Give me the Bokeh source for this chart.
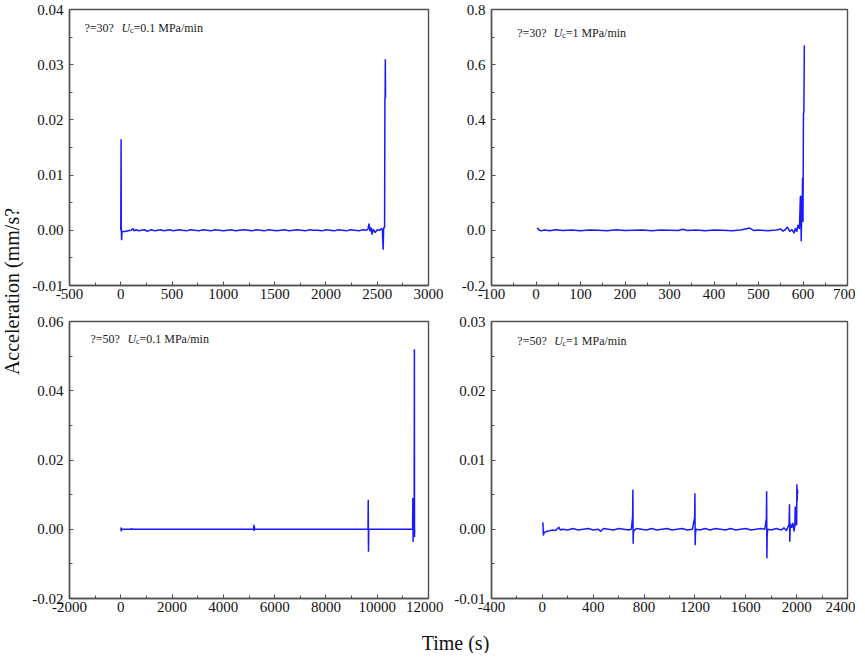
import math
from bokeh.plotting import figure
from bokeh.layouts import row, column, gridplot
from bokeh.models import Range1d, FixedTicker, NumeralTickFormatter, Label
from bokeh.core.properties import value
from bokeh.embed import file_html
from bokeh.resources import INLINE

# ---------------- data ----------------
# (a) theta=30, Uc=0.1 MPa/min
t1 = [0, 3, 5, 8, 12,
      20, 45, 70, 100, 120, 130, 150, 175, 200, 230,
      260, 280, 300, 330, 360, 390, 420, 450, 480, 510,
      540, 570, 600, 640, 680, 720, 760, 800, 840, 880,
      920, 960, 1000, 1040, 1080, 1120, 1160, 1200, 1240, 1280,
      1320, 1360, 1400, 1440, 1480, 1520, 1560, 1600, 1640, 1680,
      1720, 1760, 1800, 1840, 1880, 1920, 1960, 2000, 2040, 2080,
      2120, 2160, 2200, 2240, 2280, 2320, 2360, 2390,
      2410, 2420, 2430, 2440, 2450, 2460, 2480, 2500, 2520, 2540,
      2550, 2558, 2562, 2566, 2570, 2572, 2575, 2577, 2579, 2581, 2583]
a1 = [0.0, 0.0165, 0.0005, -0.0018, -0.0003,
      -0.0002, -0.0002, -0.0001, 0.0, 0.0003, -0.0001, 0.0001, -0.0001, 0.0, 0.0001,
      -0.0002, 0.0, 0.0001, -0.0001, 0.0, 0.0001, -0.0001, 0.0, 0.0001, -0.0001,
      0.0, 0.0001, 0.0, -0.0001, 0.0001, 0.0, -0.0001, 0.0001, 0.0, -0.0001,
      0.0001, 0.0, -0.0001, 0.0, 0.0001, -0.0001, 0.0, 0.0001, 0.0, -0.0001,
      0.0001, 0.0, -0.0001, 0.0001, 0.0, -0.0001, 0.0, 0.0001, -0.0001, 0.0,
      0.0001, 0.0, -0.0001, 0.0001, 0.0, 0.0, -0.0001, 0.0001, 0.0, -0.0001,
      0.0001, 0.0, -0.0001, 0.0001, 0.0, -0.0001, 0.0001, 0.0,
      0.0002, 0.0012, -0.0002, 0.0005, -0.0008, 0.0002, -0.0004, 0.0001, 0.0, 0.0003,
      0.0002, -0.0035, 0.0002, 0.0006, 0.0004, 0.0008, 0.024, 0.0238, 0.031, 0.024, 0.024]

# (b) theta=30, Uc=1 MPa/min
t2 = [3, 5, 8, 12, 20, 30, 45, 60, 80, 100,
      120, 140, 160, 180, 200, 220, 240, 260, 280, 300,
      320, 330, 340, 360, 380, 400, 420, 440, 460, 480,
      490, 500, 520, 540, 550, 555, 560, 565, 570, 575,
      580, 583, 586, 589, 592, 594, 595, 596, 597, 598,
      599, 600, 601, 602, 603]
a2 = [0.01, 0.004, 0.0, -0.002, 0.001, -0.002, 0.002, -0.001, 0.001, -0.002,
      0.001, 0.0, -0.002, 0.002, -0.001, 0.0, 0.001, -0.002, 0.001, 0.0,
      -0.001, 0.004, -0.001, 0.001, -0.002, 0.001, 0.0, -0.002, 0.001, 0.008,
      -0.001, 0.001, -0.002, 0.001, 0.005, -0.003, 0.002, 0.012, -0.004, 0.003,
      -0.01, 0.008, -0.005, 0.02, 0.005, 0.12, 0.125, -0.04, 0.05, 0.04,
      0.19, 0.03, 0.42, 0.43, 0.67]

# (c) theta=50, Uc=0.1 MPa/min
t3 = [0, 10, 20, 30, 100, 400, 420, 440, 1000, 2000,
      3000, 4000, 5000, 5180, 5190, 5200, 5210, 5220, 6000, 7000,
      8000, 9000, 9640, 9650, 9660, 9670, 10000, 11000, 11380, 11390,
      11400, 11410, 11420, 11440, 11450, 11455, 11460]
a3 = [0.0, 0.0005, -0.0006, 0.0, 0.0, 0.0, 0.0003, 0.0, 0.0, 0.0,
      0.0, 0.0, 0.0, 0.0, 0.0013, -0.0005, 0.0008, 0.0, 0.0, 0.0,
      0.0, 0.0, 0.0, 0.0085, -0.0065, 0.0, 0.0, 0.0, 0.0, 0.009,
      -0.0037, 0.006, 0.0, 0.0, 0.052, -0.0022, 0.0]

# (d) theta=50, Uc=1 MPa/min
t4 = [3, 5, 8, 12, 20, 40, 60, 80, 100, 120,
      130, 140, 160, 200, 240, 280, 320, 360, 400, 440,
      460, 480, 520, 560, 600, 640, 680, 700, 710, 712,
      714, 716, 720, 740, 780, 820, 860, 900, 940, 980,
      1020, 1060, 1100, 1140, 1180, 1198, 1200, 1202, 1204, 1208,
      1240, 1280, 1320, 1360, 1400, 1440, 1480, 1520, 1560, 1600,
      1640, 1680, 1720, 1750, 1762, 1764, 1766, 1768, 1772, 1800,
      1840, 1880, 1900, 1920, 1930, 1940, 1944, 1946, 1950, 1960,
      1970, 1980, 1986, 1989, 1992, 1996, 2000, 2002, 2004, 2006,
      2008]
a4 = [0.001, 0.0008, -0.0009, -0.0006, -0.0004, -0.0003, -0.0002, -0.0001, -0.0002, 0.0001,
      0.0003, -0.0001, 0.0, -0.0001, 0.0001, -0.0001, 0.0, 0.0001, -0.0001, 0.0,
      -0.0003, 0.0001, 0.0, -0.0001, 0.0001, 0.0, -0.0001, 0.0, 0.0018, 0.0057,
      -0.0021, -0.0006, -0.0002, 0.0001, 0.0, -0.0001, 0.0001, -0.0001, 0.0, 0.0001,
      -0.0001, 0.0, 0.0001, -0.0001, 0.0, 0.0017, 0.0052, -0.0023, -0.0008, 0.0,
      -0.0001, 0.0001, -0.0001, 0.0001, 0.0, -0.0001, 0.0001, -0.0001, 0.0, 0.0001,
      -0.0001, 0.0, 0.0001, 0.0, 0.0016, 0.0055, -0.0042, -0.001, 0.0, -0.0001,
      0.0001, -0.0001, 0.0002, -0.0002, 0.0003, 0.0006, 0.0036, -0.0018, 0.0008, 0.0002,
      0.0009, -0.0003, 0.0007, 0.0033, 0.0005, 0.0012, 0.0006, 0.0065, 0.004, 0.0058,
      0.0052]

# axis ticks
x1_ticks = [-500, 0, 500, 1000, 1500, 2000, 2500, 3000]
y1_ticks = [-0.01, 0.0, 0.01, 0.02, 0.03, 0.04]
x2_ticks = [-100, 0, 100, 200, 300, 400, 500, 600, 700]
y2_ticks = [-0.2, 0.0, 0.2, 0.4, 0.6, 0.8]
x3_ticks = [-2000, 0, 2000, 4000, 6000, 8000, 10000, 12000]
y3_ticks = [-0.02, 0.0, 0.02, 0.04, 0.06]
x4_ticks = [-400, 0, 400, 800, 1200, 1600, 2000, 2400]
y4_ticks = [-0.01, 0.0, 0.01, 0.02, 0.03]

notes = [("?=30?", "=0.1 MPa/min"), ("?=30?", "=1 MPa/min"),
         ("?=50?", "=0.1 MPa/min"), ("?=50?", "=1 MPa/min")]

y_title = "Acceleration (mm/s?"
x_title = "Time (s)"

SERIF = "Liberation Serif"
AX = "#505050"
LINE = "#1a1aff"


def minors(ticks):
    return [(a + b) / 2.0 for a, b in zip(ticks[:-1], ticks[1:])]


def panel(t, a, xt, yt, yfmt, note, w, h, bl, br, bt, bb, nx, ny):
    p = figure(width=w, height=h, output_backend="svg", toolbar_location=None,
               x_range=Range1d(xt[0], xt[-1]), y_range=Range1d(yt[0], yt[-1]),
               min_border_left=bl, min_border_right=br,
               min_border_top=bt, min_border_bottom=bb)
    p.line(t, a, line_color=LINE, line_width=1.5)
    p.xgrid.visible = False
    p.ygrid.visible = False
    p.outline_line_color = AX
    p.outline_line_width = 1.4
    p.xaxis.ticker = FixedTicker(ticks=xt, minor_ticks=minors(xt))
    p.yaxis.ticker = FixedTicker(ticks=yt, minor_ticks=minors(yt))
    p.xaxis.formatter = NumeralTickFormatter(format="0")
    p.yaxis.formatter = NumeralTickFormatter(format=yfmt)
    p.axis.axis_line_color = AX
    p.axis.axis_line_width = 1.4
    p.axis.major_tick_line_color = AX
    p.axis.minor_tick_line_color = AX
    p.axis.major_tick_in = 4
    p.axis.major_tick_out = 0
    p.axis.minor_tick_in = 3
    p.axis.minor_tick_out = 0
    p.axis.major_label_text_font = SERIF
    p.axis.major_label_text_font_size = "15px"
    p.axis.major_label_text_color = "#111111"
    p.yaxis.major_label_standoff = 6
    p.xaxis.major_label_standoff = 3

    fw = w - bl - br
    fh = h - bt - bb
    x0, x1 = xt[0], xt[-1]
    y0, y1 = yt[0], yt[-1]

    def X(px):
        return x0 + (nx + px) / fw * (x1 - x0)

    def Y(px):
        return y1 - (ny + px) / fh * (y1 - y0)

    common = dict(text_font=SERIF, text_color="#222222", text_baseline="alphabetic")
    p.add_layout(Label(x=X(0), y=Y(0), text=note[0], text_font_size="12px", **common))
    p.add_layout(Label(x=X(37), y=Y(0), text="U", text_font_size="12px",
                       text_font_style="italic", **common))
    p.add_layout(Label(x=X(45.5), y=Y(3), text="c", text_font_size="8px", **common))
    p.add_layout(Label(x=X(49), y=Y(0), text=note[1], text_font_size="12px", **common))
    return p


TOP_H, BOT_H, LAB_H = 315, 310, 28
p1 = panel(t1, a1, x1_ticks, y1_ticks, "0.00", notes[0], 415, TOP_H, 41, 15, 9, 30, 15, 18)
p2 = panel(t2, a2, x2_ticks, y2_ticks, "0.0", notes[1], 412, TOP_H, 48, 4, 9, 30, 26, 23)
p3 = panel(t3, a3, x3_ticks, y3_ticks, "0.00", notes[2], 415, BOT_H, 41, 15, 6, 27, 21, 17)
p4 = panel(t4, a4, x4_ticks, y4_ticks, "0.00", notes[3], 412, BOT_H, 46, 8, 6, 27, 26, 19)

grid = gridplot([[p1, p2], [p3, p4]], toolbar_location=None)

TOTAL_H = TOP_H + BOT_H + LAB_H
LEFT_W = 28

left = figure(width=LEFT_W, height=TOTAL_H, output_backend="svg", toolbar_location=None,
              x_range=Range1d(0, LEFT_W), y_range=Range1d(0, TOTAL_H),
              x_axis_location=None, y_axis_location=None, min_border=0)
left.outline_line_color = None
left.xgrid.visible = False
left.ygrid.visible = False
left.text(x=[11], y=[TOTAL_H - 291], text=[y_title], angle=math.pi / 2,
          text_font=value(SERIF), text_font_size="20px", text_color="#111111",
          text_align="center", text_baseline="middle")

bottom = figure(width=827, height=LAB_H, output_backend="svg", toolbar_location=None,
                x_range=Range1d(0, 827), y_range=Range1d(0, LAB_H),
                x_axis_location=None, y_axis_location=None, min_border=0)
bottom.outline_line_color = None
bottom.xgrid.visible = False
bottom.ygrid.visible = False
bottom.text(x=[427], y=[11], text=[x_title],
            text_font=value(SERIF), text_font_size="20px", text_color="#111111",
            text_align="center", text_baseline="middle")

layout = row(left, column(grid, bottom))

with open("out.html", "w") as f:
    f.write(file_html(layout, INLINE))
